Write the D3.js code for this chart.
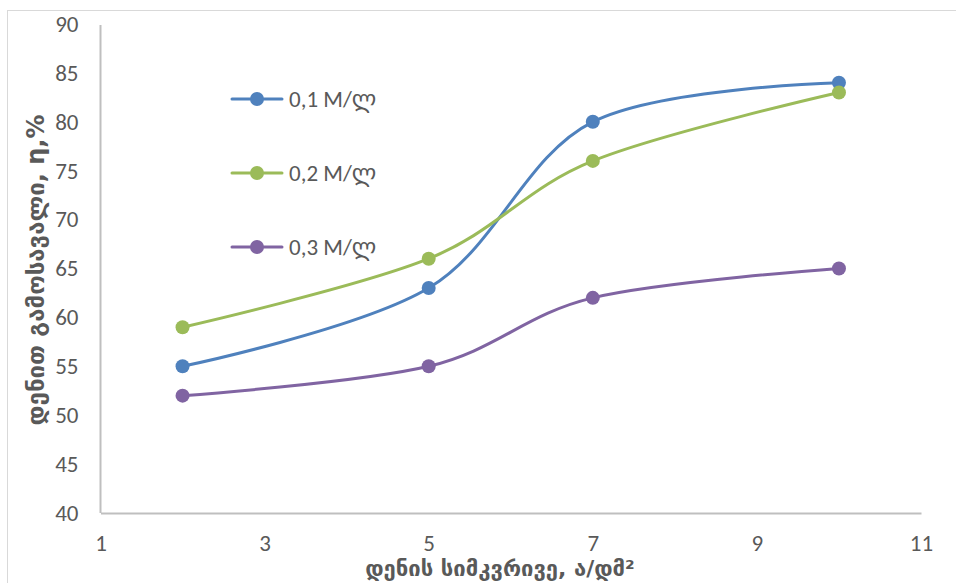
<!DOCTYPE html>
<html>
<head>
<meta charset="utf-8">
<script src="https://cdn.jsdelivr.net/npm/d3@7"></script>
<style>
  html, body { margin: 0; padding: 0; background: #fff; }
  svg { display: block; }
</style>
</head>
<body>
<svg id="chart" width="956" height="583"></svg>
<script>
const xValues = [2, 5, 7, 10];
const seriesNames = ["0,1 M/ლ", "0,2 M/ლ", "0,3 M/ლ"];
const series1 = [55, 63, 80, 84];
const series2 = [59, 66, 76, 83];
const series3 = [52, 55, 62, 65];
const colors = ["#4F81BD", "#9BBB59", "#8064A2"];
const xTicks = [1, 3, 5, 7, 9, 11];
const yTicks = [40, 45, 50, 55, 60, 65, 70, 75, 80, 85, 90];
const xTitle = "დენის სიმკვრივე, ა/დმ²";
const yTitle = "დენით გამოსავალი, η,%";

(function () {
const allSeries = [series1, series2, series3];

const svg = d3.select("#chart");
const font = "Calibri, Carlito, 'Noto Sans', 'DejaVu Sans', sans-serif";

// outer chart border
svg.append("rect")
  .attr("x", 7.5).attr("y", 10.5)
  .attr("width", 1000).attr("height", 1000)
  .attr("fill", "none").attr("stroke", "#d9d9d9").attr("stroke-width", 1);

const pLeft = 100.5, pRight = 921, pTop = 24, pBottom = 513;
const x = d3.scaleLinear().domain([1, 11]).range([pLeft, pRight]);
const y = d3.scaleLinear().domain([40, 90]).range([pBottom, pTop]);

// axes
const xAxis = svg.append("g").attr("transform", `translate(0,${pBottom})`)
  .call(d3.axisBottom(x).tickValues(xTicks).tickSize(0).tickPadding(22).tickFormat(d3.format("d")));
const yAxis = svg.append("g").attr("transform", `translate(${pLeft},0)`)
  .call(d3.axisLeft(y).tickValues(yTicks).tickSize(0).tickPadding(22).tickFormat(d3.format("d")));

[xAxis, yAxis].forEach(a => {
  a.select(".domain").attr("stroke", "#bfbfbf").attr("stroke-width", 2);
  a.selectAll("text").attr("fill", "#595959").style("font-size", "23px").style("font-family", font);
});
yAxis.select(".domain").attr("d", `M0,${y(90) + 1}V${pBottom}`);

// lines
const line = d3.line()
  .x((d, i) => x(xValues[i]))
  .y(d => y(d))
  .curve(d3.curveCardinal.tension(0));

allSeries.forEach((s, k) => {
  svg.append("path").datum(s)
    .attr("d", line)
    .attr("fill", "none")
    .attr("stroke", colors[k])
    .attr("stroke-width", 3)
    .attr("stroke-linecap", "round");
});
allSeries.forEach((s, k) => {
  svg.append("g").selectAll("circle").data(s).join("circle")
    .attr("cx", (d, i) => x(xValues[i]))
    .attr("cy", d => y(d))
    .attr("r", 7)
    .attr("fill", colors[k]);
});

// legend
const legendY = [99, 173, 247];
seriesNames.forEach((name, k) => {
  const g = svg.append("g").attr("transform", `translate(0,${legendY[k]})`);
  g.append("line").attr("x1", 232).attr("x2", 282).attr("y1", 0).attr("y2", 0)
    .attr("stroke", colors[k]).attr("stroke-width", 3).attr("stroke-linecap", "round");
  g.append("circle").attr("cx", 257).attr("cy", 0).attr("r", 7).attr("fill", colors[k]);
  g.append("text").attr("x", 289).attr("y", 0).attr("dy", "0.35em")
    .attr("fill", "#595959").style("font-size", "23px").style("font-family", font)
    .text(name);
});

// axis titles
svg.append("text")
  .attr("x", 500).attr("y", 568).attr("dy", "0.35em")
  .attr("text-anchor", "middle")
  .attr("fill", "#595959").style("font-size", "22px").style("font-weight", "bold")
  .style("font-family", "'DejaVu Sans', 'Noto Sans', sans-serif")
  .text(xTitle);
svg.append("text")
  .attr("transform", "translate(36,270) rotate(-90)")
  .attr("dy", "0.35em")
  .attr("text-anchor", "middle")
  .attr("fill", "#595959").style("font-size", "24px").style("font-weight", "bold")
  .style("font-family", "'DejaVu Sans', 'Noto Sans', sans-serif")
  .text(yTitle);
})();
</script>
</body>
</html>
